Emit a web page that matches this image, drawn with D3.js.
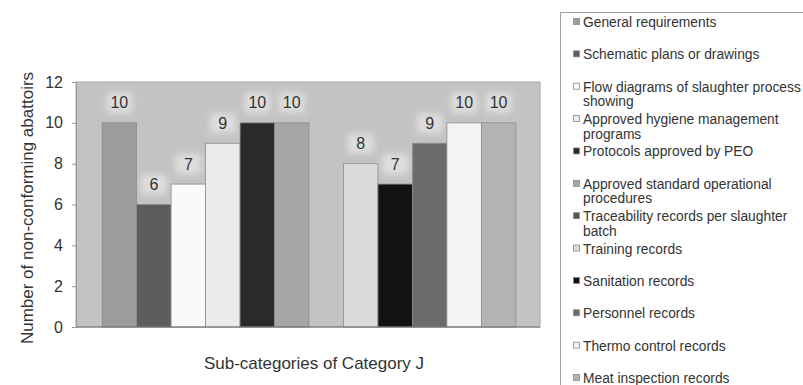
<!DOCTYPE html>
<html>
<head>
<meta charset="utf-8">
<script src="https://cdn.jsdelivr.net/npm/d3@7"></script>
<style>
  html, body { margin: 0; padding: 0; background: #ffffff; }
  svg { display: block; font-family: "Liberation Sans", Arial, sans-serif; }
</style>
</head>
<body>
<svg id="chart" width="803" height="385"></svg>
<script>
// Sub-categories of Category J and number of non-conforming abattoirs
const subCategories = [
  "General requirements",
  "Schematic plans or drawings",
  "Flow diagrams of slaughter process showing",
  "Approved hygiene management programs",
  "Protocols approved by PEO",
  "Approved standard operational procedures",
  "Traceability records per slaughter batch",
  "Training records",
  "Sanitation records",
  "Personnel records",
  "Thermo control records",
  "Meat inspection records"
];
const nonConforming = [10, 6, 7, 9, 10, 10, 0, 8, 7, 9, 10, 10];
const legendLines = [
  ["General requirements"],
  ["Schematic plans or drawings"],
  ["Flow diagrams of slaughter process", "showing"],
  ["Approved hygiene management", "programs"],
  ["Protocols approved by PEO"],
  ["Approved standard operational", "procedures"],
  ["Traceability records per slaughter", "batch"],
  ["Training records"],
  ["Sanitation records"],
  ["Personnel records"],
  ["Thermo control records"],
  ["Meat inspection records"]
];
const fills = ["#9d9d9d", "#5d5d5d", "#fafafa", "#ebebeb", "#2a2a2a", "#a6a6a6",
               "#555555", "#dadada", "#121212", "#6b6b6b", "#f3f3f3", "#b3b3b3"];
const yTicks = [0, 2, 4, 6, 8, 10, 12];

const svg = d3.select("#chart");
const plot = { left: 76, right: 540, top: 82, bottom: 327 };

const x = d3.scaleBand()
  .domain(subCategories)
  .range([plot.left + 2, plot.right])
  .paddingInner(0)
  .paddingOuter(0.7);

const y = d3.scaleLinear().domain([0, 12]).range([plot.bottom, plot.top]);

const defs = svg.append("defs");
defs.append("filter").attr("id", "halo").attr("x", "-50%").attr("y", "-50%")
  .attr("width", "200%").attr("height", "200%")
  .append("feGaussianBlur").attr("stdDeviation", 3);

// plot area background
svg.append("rect")
  .attr("x", plot.left).attr("y", plot.top)
  .attr("width", plot.right - plot.left).attr("height", plot.bottom - plot.top)
  .attr("fill", "#c3c3c3").attr("stroke", "#a8a8a8").attr("stroke-width", 1);

// bars
svg.append("g").selectAll("rect")
  .data(subCategories)
  .join("rect")
  .attr("x", d => x(d))
  .attr("y", (d, i) => y(nonConforming[i]))
  .attr("width", x.bandwidth())
  .attr("height", (d, i) => y(0) - y(nonConforming[i]))
  .attr("fill", (d, i) => fills[i])
  .attr("stroke", "#8c8c8c")
  .attr("stroke-width", 0.8)
  .attr("display", (d, i) => nonConforming[i] > 0 ? null : "none");

// value labels with a soft light halo
const labels = svg.append("g");
subCategories.forEach((d, i) => {
  if (nonConforming[i] <= 0) return;
  const cx = x(d) + x.bandwidth() / 2;
  const cy = y(nonConforming[i]) - 20;
  labels.append("rect")
    .attr("x", cx - 13).attr("y", cy - 10).attr("width", 26).attr("height", 20)
    .attr("fill", "#e4e4e4").attr("opacity", 0.8).attr("filter", "url(#halo)");
  labels.append("text")
    .attr("x", cx).attr("y", cy)
    .attr("text-anchor", "middle").attr("dominant-baseline", "central")
    .attr("font-size", 16).attr("fill", "#333")
    .text(nonConforming[i]);
});

// x axis baseline
svg.append("line")
  .attr("x1", plot.left).attr("x2", plot.right)
  .attr("y1", plot.bottom).attr("y2", plot.bottom)
  .attr("stroke", "#707070").attr("stroke-width", 1.2);

// y axis
const yAxis = svg.append("g")
  .attr("transform", `translate(${plot.left},0)`)
  .call(d3.axisLeft(y).tickValues(yTicks).tickSize(4).tickPadding(9));
yAxis.select(".domain").attr("stroke", "#9a9a9a");
yAxis.selectAll(".tick line").attr("stroke", "#9a9a9a");
yAxis.selectAll(".tick text")
  .attr("font-size", 16).attr("fill", "#333")
  .attr("font-family", "Liberation Sans, Arial, sans-serif");

// axis titles
svg.append("text")
  .attr("transform", "translate(27,208) rotate(-90)")
  .attr("text-anchor", "middle").attr("dominant-baseline", "central")
  .attr("font-size", 17).attr("fill", "#333")
  .text("Number of non-conforming abattoirs");

svg.append("text")
  .attr("x", 314).attr("y", 363)
  .attr("text-anchor", "middle").attr("dominant-baseline", "central")
  .attr("font-size", 17).attr("fill", "#333")
  .text("Sub-categories of Category J");

// legend
const legend = svg.append("g");
legend.append("rect")
  .attr("x", 560.5).attr("y", 12.5).attr("width", 260).attr("height", 400)
  .attr("fill", "#ffffff").attr("stroke", "#a0a0a0").attr("stroke-width", 1);

const rowY = d3.scaleLinear().domain([0, 11]).range([22, 378]);
legendLines.forEach((lines, i) => {
  const cy = rowY(i);
  legend.append("rect")
    .attr("x", 573.5).attr("y", cy - 3.5).attr("width", 6).attr("height", 6)
    .attr("fill", fills[i]).attr("stroke", "#8a8a8a").attr("stroke-width", 0.8);
  const t = legend.append("text")
    .attr("x", 583).attr("y", cy)
    .attr("dominant-baseline", "central")
    .attr("font-size", 13.8).attr("fill", "#333");
  lines.forEach((ln, k) => {
    t.append("tspan").attr("x", 583).attr("dy", k === 0 ? 0 : 14.5).text(ln);
  });
});
</script>
</body>
</html>
